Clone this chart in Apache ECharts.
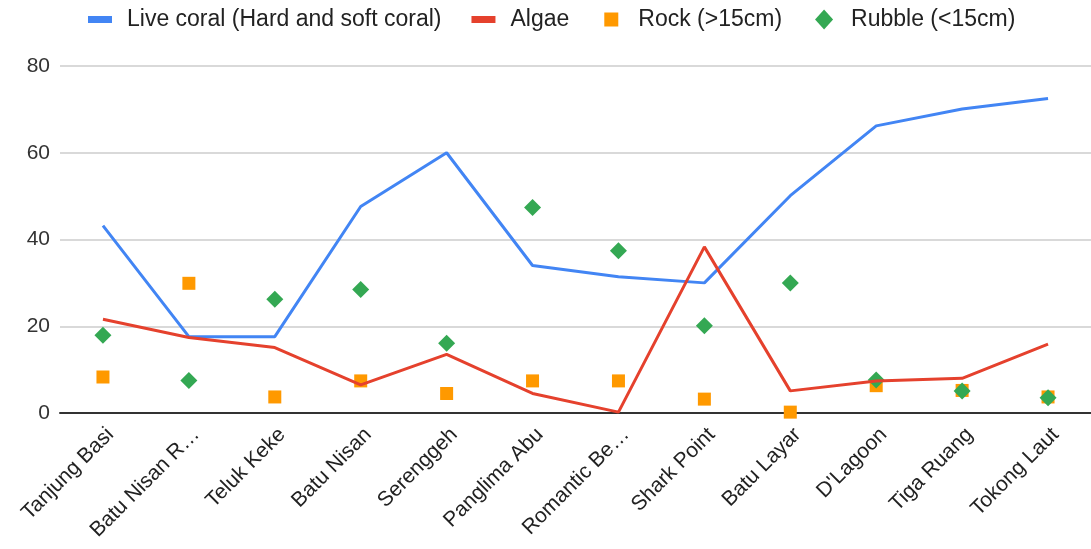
<!DOCTYPE html>
<html><head><meta charset="utf-8">
<script src="https://cdn.jsdelivr.net/npm/echarts@6/dist/echarts.min.js"></script>
<style>html,body{margin:0;padding:0;background:#fff}#c{width:1091px;height:549px}</style>
</head><body><div id="c"></div>
<script>
const categories = ["Tanjung Basi","Batu Nisan R…","Teluk Keke","Batu Nisan","Serenggeh","Panglima Abu","Romantic Be…","Shark Point","Batu Layar","D'Lagoon","Tiga Ruang","Tokong Laut"];
const liveCoral = [43.2, 17.6, 17.6, 47.6, 60.0, 34.0, 31.4, 30.0, 50.1, 66.2, 70.1, 72.5];
const algae = [21.6, 17.4, 15.1, 6.5, 13.5, 4.5, 0.2, 38.3, 5.1, 7.4, 8.0, 15.9];
const rock = [8.3, 29.9, 3.7, 7.4, 4.5, 7.4, 7.4, 3.2, 0.2, 6.3, 5.2, 3.7];
const rubble = [17.9, 7.5, 26.2, 28.5, 16.1, 47.4, 37.4, 20.1, 30.0, 7.6, 5.1, 3.5];
const yTicks = [0, 20, 40, 60, 80];

const names = ["Live coral (Hard and soft coral)", "Algae", "Rock (>15cm)", "Rubble (<15cm)"];
const corners = 'M0,0L0,0M24,20L24,20';
const lineIcon = 'path://' + corners + 'M0,6.5h24v7h-24z';
const squareIcon = 'path://' + corners + 'M5,3h14v14h-14z';
const diamondIcon = 'path://' + corners + 'M12,0L21,10L12,20L3,10z';

const chart = echarts.init(document.getElementById('c'), null, {renderer:'canvas'});
chart.setOption({
  animation: false,
  textStyle: {fontFamily: 'Liberation Sans, Arial, sans-serif'},
  legend: {
    top: 3, left: 83,
    itemWidth: 24, itemHeight: 20, itemGap: 30,
    textStyle: {fontSize: 23, color: '#222', padding: [0,0,0,10]},
    data: [
      {name: names[0], icon: lineIcon},
      {name: names[1], icon: lineIcon},
      {name: names[2], icon: squareIcon},
      {name: names[3], icon: diamondIcon}
    ]
  },
  grid: {left: 60, right: 0, top: 66, bottom: 136, containLabel: false},
  xAxis: {
    type: 'category', data: categories, boundaryGap: true,
    axisLine: {lineStyle: {color: '#333', width: 2}},
    axisTick: {show: false},
    axisLabel: {rotate: 45, fontSize: 21, color: '#222', margin: 11, interval: 0, verticalAlign: 'top'}
  },
  yAxis: {
    type: 'value', min: yTicks[0], max: yTicks[yTicks.length-1], interval: 20,
    axisLine: {show: false}, axisTick: {show: false},
    axisLabel: {fontSize: 21, color: '#333', margin: 10},
    splitLine: {lineStyle: {color: '#ccc', width: 1.5}}
  },
  series: [
    {name: names[0], type: 'line', data: liveCoral, showSymbol: false, symbol: 'none',
     lineStyle: {color: '#4285F4', width: 3}, itemStyle: {color: '#4285F4'}},
    {name: names[1], type: 'line', data: algae, showSymbol: false, symbol: 'none',
     lineStyle: {color: '#E5412D', width: 3}, itemStyle: {color: '#E5412D'}},
    {name: names[2], type: 'scatter', data: rock, symbol: 'rect', symbolSize: 13,
     itemStyle: {color: '#FF9900', opacity: 1}},
    {name: names[3], type: 'scatter', data: rubble, symbol: 'diamond', symbolSize: 17,
     itemStyle: {color: '#34A853', opacity: 1}}
  ]
});
</script></body></html>
